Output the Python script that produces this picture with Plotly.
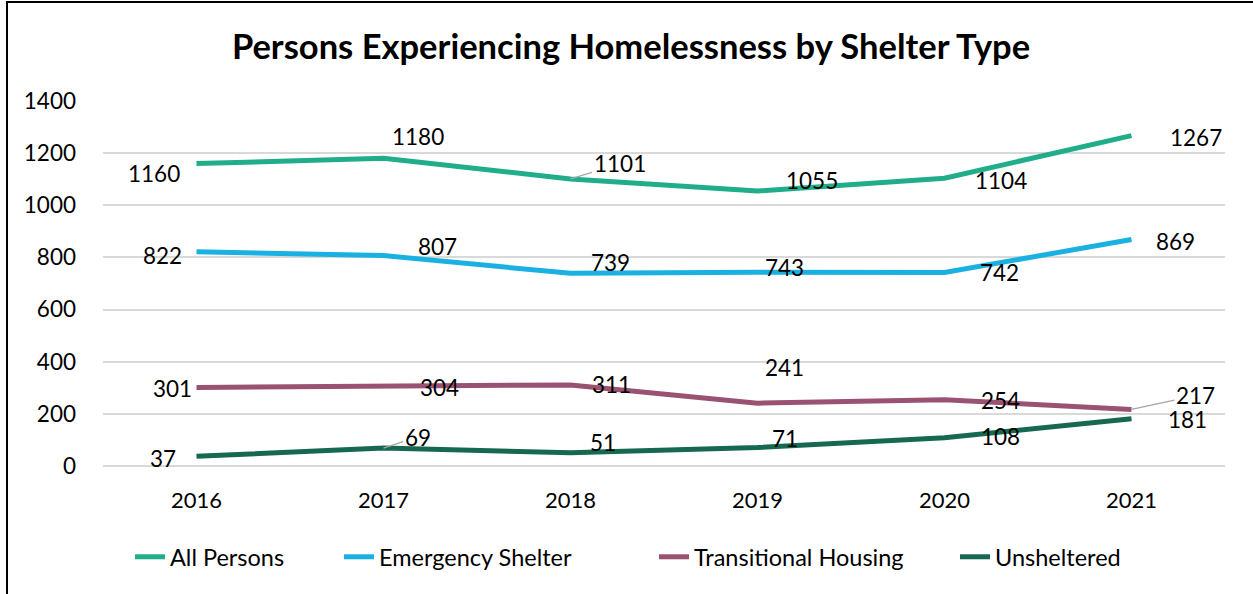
import plotly.graph_objects as go

years = ["2016", "2017", "2018", "2019", "2020", "2021"]
all_persons = [1160, 1180, 1101, 1055, 1104, 1267]
emergency = [822, 807, 739, 743, 742, 869]
transitional = [301, 304, 311, 241, 254, 217]
unsheltered = [37, 69, 51, 71, 108, 181]

series = [
    ("All Persons", all_persons, "#20ae8a"),
    ("Emergency Shelter", emergency, "#1ab1e2"),
    ("Transitional Housing", transitional, "#9a5273"),
    ("Unsheltered", unsheltered, "#176850"),
]

# label offsets in pixels (dx, dy down), leader flag
offsets = {
    "All Persons": [(-43, 10, False), (34, -22, False), (49, -15, True), (54, -10, False), (56, 2, False), (64, 2, False)],
    "Emergency Shelter": [(-34, 4, False), (54, -9, False), (40, -11, False), (27, -5, False), (55, 0, False), (44, 2, False)],
    "Transitional Housing": [(-24, 1, False), (56, 1, False), (41, 0, False), (27, -36, False), (56, 1, False), (64, -14, True)],
    "Unsheltered": [(-34, 2, False), (34, -11, True), (32, -10, False), (27, -9, False), (56, -1, False), (56, 1, False)],
}

FONT = "Lato, 'Open Sans', sans-serif"
L, R, T, B = 103, 28, 101, 128
W, H = 1253, 594
pw, ph = W - L - R, H - T - B

# legend item left positions (px)
legend_px = [130, 339, 654, 955]

fig = go.Figure()
annotations = []
for k, (name, vals, col) in enumerate(series):
    lg = "legend" if k == 0 else f"legend{k + 1}"
    fig.add_trace(go.Scatter(x=years, y=vals, name=name, mode="lines",
                             line=dict(color=col, width=5), legend=lg))
    for i, v in enumerate(vals):
        dx, dy, lead = offsets[name][i]
        common = dict(x=i, y=v, xref="x", yref="y", text=str(v),
                      xanchor="center", yanchor="middle",
                      font=dict(size=22.5, color="black", family=FONT))
        if lead:
            annotations.append(dict(**common, showarrow=True, arrowhead=0, arrowwidth=1.3,
                                    arrowcolor="#a6a6a6", ax=dx, ay=dy))
        else:
            annotations.append(dict(**common, showarrow=False, xshift=dx, yshift=-dy))

legends = {}
for k, px in enumerate(legend_px):
    key = "legend" if k == 0 else f"legend{k + 1}"
    legends[key] = dict(orientation="h", x=(px - L) / pw, xanchor="left",
                        y=(H - B - 557) / ph, yanchor="middle",
                        font=dict(size=23.5, family=FONT, color="black"),
                        bgcolor="rgba(0,0,0,0)")

fig.update_layout(
    width=W, height=H,
    margin=dict(l=L, r=R, t=T, b=B, autoexpand=False),
    paper_bgcolor="white", plot_bgcolor="white",
    font=dict(family=FONT, size=22, color="black"),
    title=dict(text="<b>Persons Experiencing Homelessness by Shelter Type</b>",
               x=631 / W, xref="container", xanchor="center",
               y=1 - 47 / H, yref="container", yanchor="middle",
               font=dict(size=34.5, color="black", family=FONT)),
    xaxis=dict(type="category", range=[-0.5, 5.5], showgrid=False, showline=False,
               ticks="", ticklabelstandoff=19, tickfont=dict(size=22)),
    yaxis=dict(range=[0, 1400], dtick=200, showgrid=True, gridcolor="#d9d9d9",
               gridwidth=1.5, zeroline=True, zerolinecolor="#d9d9d9", zerolinewidth=1.5,
               ticks="", ticklabelstandoff=26, tickfont=dict(size=22.5)),
    annotations=annotations,
    showlegend=True,
    **legends,
)

# outer chart border
fig.add_shape(type="rect", xref="paper", yref="paper",
              x0=(7 - L) / pw, x1=(W + 20 - L) / pw,
              y0=(H - B - (H + 20)) / ph, y1=(H - B - 2) / ph,
              line=dict(color="black", width=2), fillcolor="rgba(0,0,0,0)",
              layer="below")

fig.write_html("out.html", config={"displayModeBar": False},
               post_script="document.body.style.margin='0';")
